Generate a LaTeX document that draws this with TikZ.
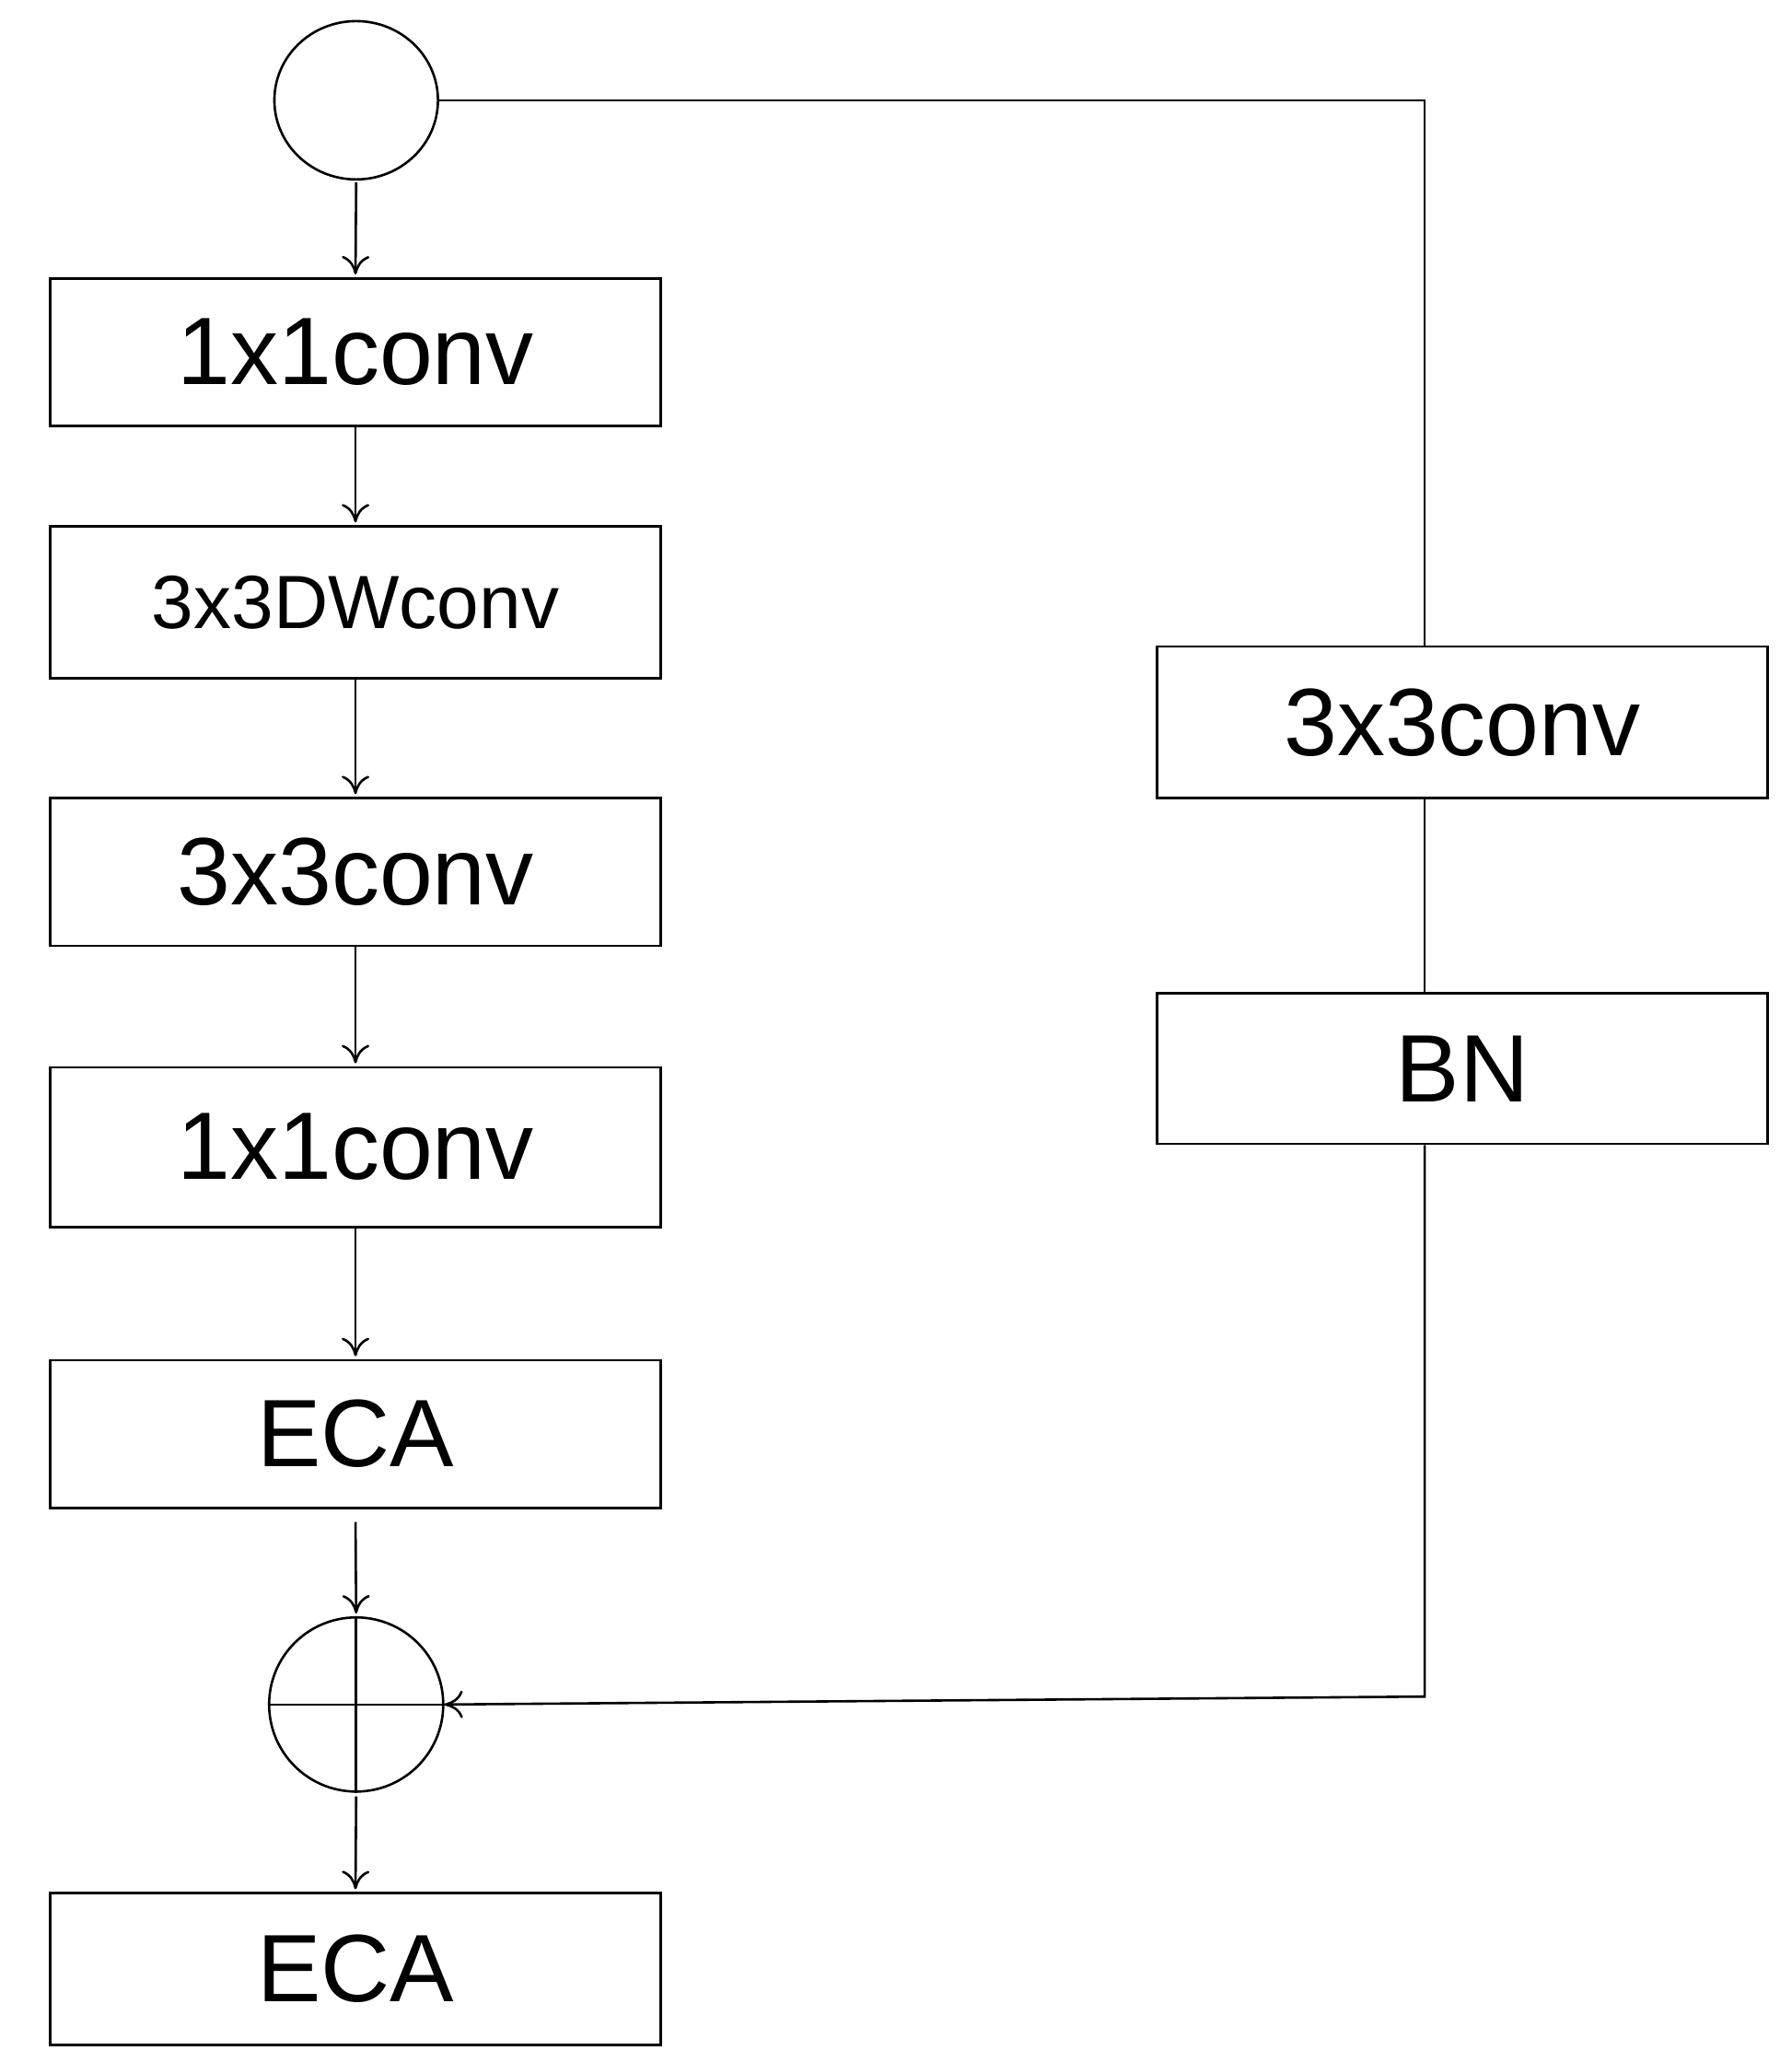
\documentclass[tikz,border=0pt]{standalone}
\usepackage{fontspec}
\setmainfont{Liberation Sans}
\usetikzlibrary{arrows.meta,shapes.geometric}
\begin{document}
\begin{tikzpicture}[x=1.4322pt,y=-1.4322pt,line width=2.6pt,
  box/.style={draw,minimum width=463*1.4322pt,inner sep=0pt},
  big/.style={font=\fontsize{104}{110}\selectfont},
  arr/.style={-{To[length=20pt,width=30pt,line width=2.6pt]}}]
\useasboundingbox (0,0) rectangle (1358,1563);
\node[draw,ellipse,minimum width=124*1.4322pt,minimum height=120*1.4322pt,inner sep=0pt] (in) at (270,76) {};
\node[box,big,minimum height=112*1.4322pt] (b1) at (269.5,267) {1x1conv};
\node[box,font=\fontsize{82}{88}\selectfont,minimum height=115*1.4322pt] (b2) at (269.5,456.5) {3x3DWconv};
\node[box,big,minimum height=112*1.4322pt] (b3) at (269.5,661) {3x3conv};
\node[box,big,minimum height=121*1.4322pt] (b4) at (269.5,869.5) {1x1conv};
\node[box,big,minimum height=112*1.4322pt] (b5) at (269.5,1087) {ECA};
\node[draw,circle,minimum size=132*1.4322pt,inner sep=0pt] (plus) at (270,1292) {};
\draw (plus.north) -- (plus.south) (plus.west) -- (plus.east);
\node[box,big,minimum height=115*1.4322pt] (b6) at (269.5,1492.5) {ECA};
\node[box,big,minimum height=115*1.4322pt] (r1) at (1108.5,547.5) {3x3conv};
\node[box,big,minimum height=114*1.4322pt] (r2) at (1108.5,810) {BN};
\coordinate (c1) at (1080,76);
\coordinate (c2) at (1080,1286);
\draw[arr] ([yshift=-2pt]in.south) -- ([yshift=3pt]b1.north);
\draw[arr] (b1.south) -- ([yshift=3pt]b2.north);
\draw[arr] (b2.south) -- ([yshift=3pt]b3.north);
\draw[arr] (b3.south) -- ([yshift=3pt]b4.north);
\draw[arr] (b4.south) -- ([yshift=3pt]b5.north);
\draw[arr] ([yshift=-14pt]b5.south) -- ([yshift=3pt]plus.north);
\draw[arr] ([yshift=-4pt]plus.south) -- ([yshift=3pt]b6.north);
\draw (in.east) -- (c1) -- (r1.north-|c1);
\draw (r1.south-|c1) -- (r2.north-|c1);
\draw[arr] (r2.south-|c1) -- (c2) -- (plus.east);
\end{tikzpicture}
\end{document}
